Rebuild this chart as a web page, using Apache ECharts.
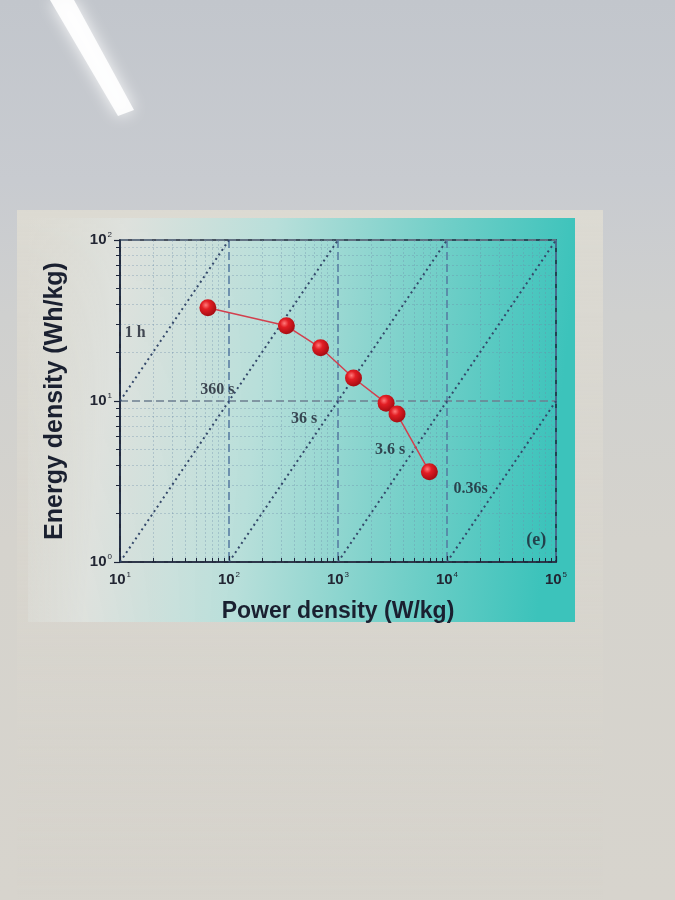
<!DOCTYPE html>
<html>
<head>
<meta charset="utf-8">
<script src="https://cdn.jsdelivr.net/npm/echarts@6/dist/echarts.min.js"></script>
<style>
  html, body { margin: 0; padding: 0; }
  body {
    width: 675px; height: 900px; overflow: hidden;
    background: linear-gradient(180deg, #c2c6cc 0%, #c8cbd0 20%, #cfd0cf 35%, #d5d3cd 60%, #d7d4cd 100%);
  }
  #chart { width: 675px; height: 900px; }
</style>
</head>
<body>
<div id="chart"></div>
<script>
// 数据点 (Ragone plot)
var powerDensity = [64, 336, 692, 1387, 2762, 3480, 6890]
var energyDensity = [38, 29.3, 21.4, 13.9, 9.7, 8.3, 3.64]

// 等时间线 E = P * t (t 单位 h)
var timeNames = ['1 h', '360 s', '36 s', '3.6 s', '0.36s']
var timeHours = [1, 0.1, 0.01, 0.001, 0.0001]
// 标注文字的位置 (数据坐标)
var labelPower = [13.8, 78, 490, 3000, 16500]
var labelEnergy = [26.5, 11.8, 7.7, 5.0, 2.85]

var xMin = 10, xMax = 100000
var yMin = 1, yMax = 100
var xMajor = [10, 100, 1000, 10000, 100000]
var yMajor = [1, 10, 100]

function minorOf (major) {
  var out = []
  for (var i = 0; i < major.length - 1; i++) {
    for (var k = 2; k <= 9; k++) out.push(major[i] * k)
  }
  return out
}
var xMinor = minorOf(xMajor)
var yMinor = minorOf(yMajor)

var chart = echarts.init(document.getElementById('chart'))

function powLabel (v) {
  var e = Math.round(Math.log10(v))
  return '{b|10}{s|' + e + '}'
}
var tickRich = {
  b: { fontFamily: 'Liberation Sans', fontWeight: 'bold', fontSize: 15, color: '#222633' },
  s: { fontFamily: 'Liberation Sans', fontSize: 8, color: '#222633', padding: [0, 0, 10, 1] }
}

// 等时间线数据
var timeSeries = timeHours.map(function (t, i) {
  var p0 = Math.max(xMin, yMin / t)
  var p1 = Math.min(xMax, yMax / t)
  return {
    name: timeNames[i],
    type: 'line',
    xAxisIndex: 0,
    yAxisIndex: 0,
    symbol: 'none',
    silent: true,
    z: 3,
    lineStyle: { color: '#34486a', width: 2, type: [2, 3.5] },
    data: [[p0, p0 * t], [p1, p1 * t]]
  }
})

var option = {
  backgroundColor: 'transparent',
  animation: false,
  graphic: [
    {
      type: 'rect', z: -10,
      shape: { x: 17, y: 210, width: 586, height: 690 },
      style: {
        fill: new echarts.graphic.LinearGradient(0, 0, 0, 1, [
          { offset: 0, color: 'rgba(220,218,210,1)' },
          { offset: 0.6, color: 'rgba(217,214,206,0.6)' },
          { offset: 1, color: 'rgba(215,212,205,0)' }
        ])
      }
    },
    {
      type: 'rect', z: -9,
      shape: { x: 28, y: 218, width: 547, height: 404 },
      style: {
        fill: new echarts.graphic.LinearGradient(0, 0, 1, 0.15, [
          { offset: 0, color: 'rgba(222,224,218,0)' },
          { offset: 0.18, color: 'rgba(222,226,222,0.9)' },
          { offset: 0.45, color: '#b8dfda' },
          { offset: 0.75, color: '#72cfc8' },
          { offset: 1, color: '#3cc3bb' }
        ])
      }
    },
    {
      type: 'polygon', z: -8,
      shape: { points: [[50, 0], [74, 0], [134, 110], [118, 116]] },
      style: { fill: 'rgba(255,255,255,0.9)', shadowBlur: 16, shadowColor: '#ffffff' }
    }
  ],
  grid: {
    left: 120,
    right: 119,
    top: 240,
    bottom: 338,
    show: true,
    borderColor: '#1c2438',
    borderWidth: 1.6,
    backgroundColor: 'transparent'
  },
  xAxis: [
    {
      type: 'log',
      logBase: 10,
      min: xMin,
      max: xMax,
      name: 'Power density (W/kg)',
      nameLocation: 'middle',
      nameGap: 38,
      nameTextStyle: { fontFamily: 'Liberation Sans', fontWeight: 'bold', fontSize: 23, color: '#1a2030', letterSpacing: 1.5 },
      axisLine: { lineStyle: { color: '#1c2438', width: 1.6 } },
      axisTick: { inside: true, length: 6, lineStyle: { color: '#1c2438', width: 1.2 } },
      axisLabel: { margin: 9, formatter: powLabel, rich: tickRich },
      splitLine: { show: true, lineStyle: { color: '#5479a0', width: 1.5, type: [8, 4] } }
    },
    {
      type: 'log',
      logBase: 10,
      min: xMin,
      max: xMax,
      position: 'bottom',
      axisLine: { show: false },
      axisLabel: { show: false },
      axisTick: { show: true, inside: true, length: 4, customValues: xMinor, lineStyle: { color: '#1c2438', width: 1 } },
      splitLine: { show: true, customValues: xMinor, lineStyle: { color: 'rgba(110,140,170,0.35)', width: 1, type: [2, 2] } }
    }
  ],
  yAxis: [
    {
      type: 'log',
      logBase: 10,
      min: yMin,
      max: yMax,
      name: 'Energy density (Wh/kg)',
      nameLocation: 'middle',
      nameGap: 52,
      nameRotate: 90,
      nameTextStyle: { fontFamily: 'Liberation Sans', fontWeight: 'bold', fontSize: 25, color: '#1a2030', letterSpacing: 1.5 },
      axisLine: { lineStyle: { color: '#1c2438', width: 1.6 } },
      axisTick: { inside: false, length: 6, lineStyle: { color: '#1c2438', width: 1.2 } },
      axisLabel: { margin: 8, formatter: powLabel, rich: tickRich },
      splitLine: { show: true, lineStyle: { color: '#6e7f90', width: 1.5, type: [8, 4] } }
    },
    {
      type: 'log',
      logBase: 10,
      min: yMin,
      max: yMax,
      position: 'left',
      axisLine: { show: false },
      axisLabel: { show: false },
      axisTick: { show: true, inside: false, length: 4, customValues: yMinor, lineStyle: { color: '#1c2438', width: 1 } },
      splitLine: { show: true, customValues: yMinor, lineStyle: { color: 'rgba(110,140,170,0.35)', width: 1, type: [2, 2] } }
    }
  ],
  series: timeSeries.concat([
    {
      name: 'labels',
      type: 'scatter',
      symbolSize: 0,
      silent: true,
      z: 4,
      data: labelPower.map(function (p, i) { return [p, labelEnergy[i], timeNames[i]] }),
      label: {
        show: true,
        position: 'inside',
        formatter: function (d) { return d.value[2] },
        fontFamily: 'Liberation Serif',
        fontWeight: 'bold',
        fontSize: 16,
        color: '#1c2030'
      }
    },
    {
      name: 'panel',
      type: 'scatter',
      symbolSize: 0,
      silent: true,
      z: 4,
      data: [[66000, 1.36, '(e)']],
      label: {
        show: true,
        position: 'inside',
        formatter: function (d) { return d.value[2] },
        fontFamily: 'Liberation Serif',
        fontWeight: 'bold',
        fontSize: 18,
        color: '#1c2030'
      }
    },
    {
      name: 'device',
      type: 'line',
      z: 6,
      data: powerDensity.map(function (p, i) { return [p, energyDensity[i]] }),
      symbol: 'circle',
      symbolSize: 17,
      lineStyle: { color: '#d2404e', width: 1.5 },
      itemStyle: {
        color: new echarts.graphic.RadialGradient(0.38, 0.35, 0.7, [
          { offset: 0, color: '#ff7a7a' },
          { offset: 0.35, color: '#e21e24' },
          { offset: 1, color: '#a00a10' }
        ]),
        borderWidth: 0
      }
    }
  ])
}

chart.setOption(option)
</script>
</body>
</html>
